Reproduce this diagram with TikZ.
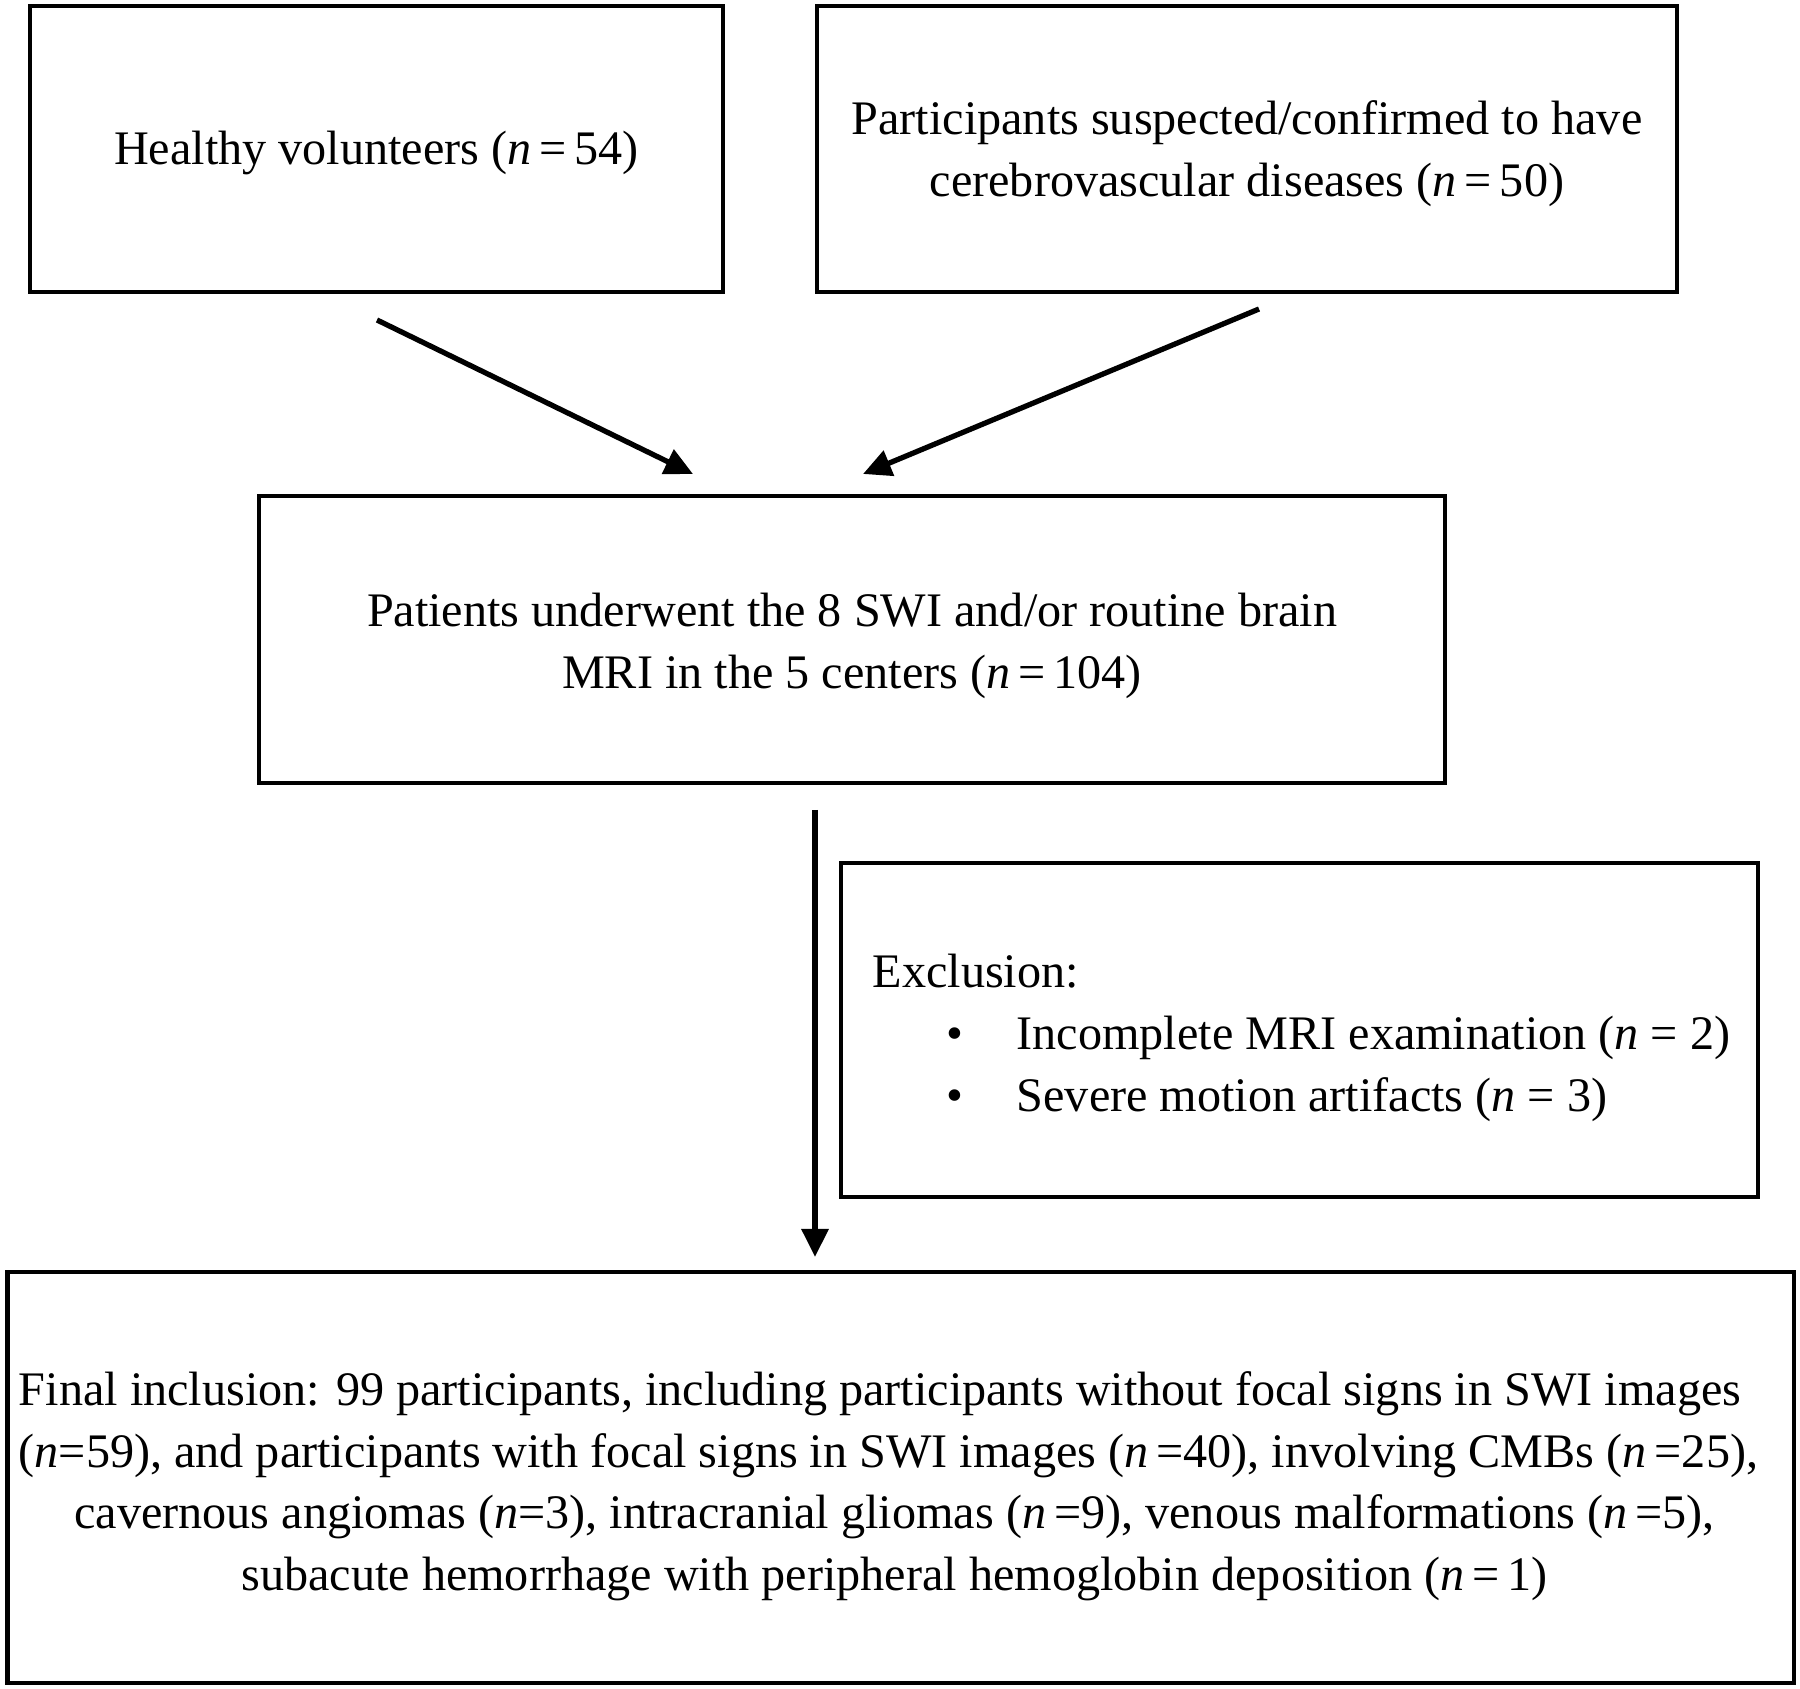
\documentclass[tikz,border=0pt]{standalone}
\usepackage{fontspec}
\setmainfont{Liberation Serif}
\usetikzlibrary{arrows.meta}
\tikzset{
  box/.style={draw=black, line width=1.15pt, inner sep=0pt, align=center,
    font=\fontsize{13.7pt}{17.6pt}\selectfont},
  txt/.style={inner sep=0pt, align=left, font=\fontsize{13.7pt}{17.6pt}\selectfont},
  arr/.style={line width=1.5pt, -{Triangle[length=8pt,width=7.5pt]}}
}
\newcommand{\nn}{\textit{n}}
\newcommand{\tp}[1]{\rule{0pt}{#1}}
\newcommand{\tr}[1]{\rule{#1}{0pt}}
\begin{document}
\begin{tikzpicture}[x=0.01cm,y=-0.01cm]
\useasboundingbox (0,0) rectangle (1800,1689);
\node[box, minimum width=6.93cm, minimum height=2.86cm] (healthy) at (376.5,149)
  {\tp{12pt}Healthy volunteers (\nn\,=\,54)};
\node[box, minimum width=8.60cm, minimum height=2.86cm] (cvd) at (1247,149)
  {\tp{12.4pt}Participants suspected/confirmed to have\\cerebrovascular diseases (\nn\,=\,50)};
\node[box, minimum width=11.86cm, minimum height=2.87cm] (mri) at (852,639.5)
  {\tp{13.4pt}Patients underwent the 8 SWI and/or routine brain\\MRI in the 5 centers (\nn\,=\,104)};
\node[box, minimum width=9.17cm, minimum height=3.34cm] (excl) at (1299.5,1030) {};
\node[txt, anchor=west] (extext) at (872,1038)
  {Exclusion:\\
   \hspace*{0.74cm}\makebox[0.70cm][l]{\textbullet}Incomplete MRI examination (\nn{} = 2)\\
   \hspace*{0.74cm}\makebox[0.70cm][l]{\textbullet}Severe motion artifacts (\nn{} = 3)};
\node[box, minimum width=17.85cm, minimum height=4.11cm] (final) at (900.5,1477.5)
  {\tp{14.6pt}Final inclusion: 99 participants, including participants without focal signs in SWI images\tr{0.41cm}\\
   (\nn=59), and participants with focal signs in  SWI images (\nn\,=40), involving CMBs (\nn\,=25),\tr{0.24cm}\\
   cavernous angiomas (\nn=3), intracranial gliomas (\nn\,=9), venous malformations (\nn\,=5),\tr{0.12cm}\\
   subacute hemorrhage with peripheral hemoglobin deposition (\nn\,=\,1)\tr{0.12cm}};
\coordinate (a1s) at (377,320);
\coordinate (a1e) at (693,474);
\coordinate (a2s) at (1259,309);
\coordinate (a2e) at (863,474);
\coordinate (a3s) at (815,810);
\coordinate (a3e) at (815,1257);
\draw[arr] (a1s) -- (a1e);
\draw[arr] (a2s) -- (a2e);
\draw[arr] (a3s) -- (a3e);
\end{tikzpicture}
\end{document}
